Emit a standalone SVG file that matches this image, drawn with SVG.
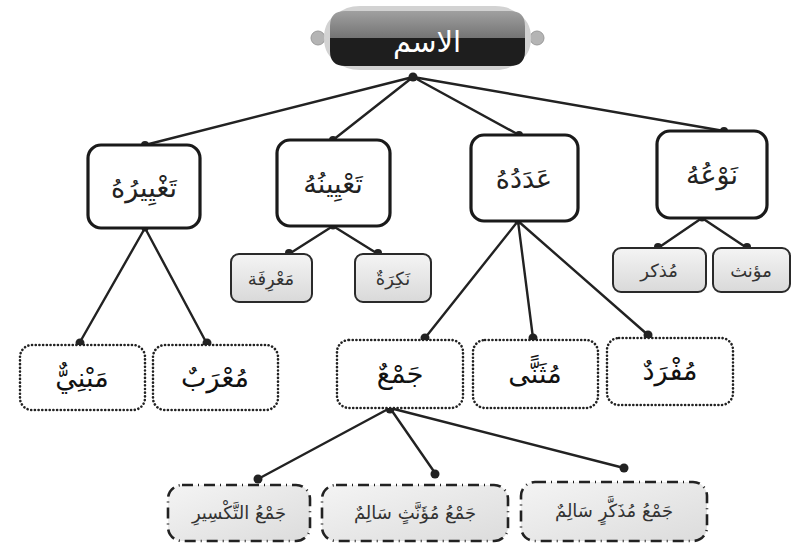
<svg xmlns="http://www.w3.org/2000/svg" width="795" height="547" viewBox="0 0 795 547">
<defs>
<linearGradient id="gTop" x1="0" y1="0" x2="0" y2="1">
<stop offset="0" stop-color="#a0a0a0"/><stop offset="1" stop-color="#747474"/>
</linearGradient>
<linearGradient id="gGrey" x1="0" y1="0" x2="0" y2="1">
<stop offset="0" stop-color="#f4f4f4"/><stop offset="1" stop-color="#d9d9d9"/>
</linearGradient>
<linearGradient id="gBot" x1="0" y1="0" x2="1" y2="1">
<stop offset="0" stop-color="#f4f4f4"/><stop offset="1" stop-color="#dcdcdc"/>
</linearGradient>
</defs>
<style>
.l1{fill:#fff;stroke:#1a1a1a;stroke-width:3.2}
.l2{fill:url(#gGrey);stroke:#2a2a2a;stroke-width:2}
.l3{fill:#fff;stroke:#222;stroke-width:2.6;stroke-dasharray:0.1 3.6;stroke-linecap:round}
.l4{fill:url(#gBot);stroke:#222;stroke-width:2.6;stroke-dasharray:11 5 1 5}
.t{font-family:"DejaVu Sans",sans-serif;fill:#222;text-anchor:middle}
.t1{font-size:27px}
.t2{font-size:18px;fill:#333}
.t3{font-size:27px;fill:#111}
.t4{font-size:18px;fill:#333}
.c{fill:none;stroke:#222;stroke-width:2.4;stroke-linecap:round}
.d{fill:#222}
</style>
<rect width="795" height="547" fill="#fff"/>

<g id="connectors">
<path class="c" d="M413 77 L145 145 M413 77 L333 140 M413 77 L519 135 M413 77 L724 131"/>
<path class="c" d="M333 226 L289 254 M333 226 L378 254"/>
<path class="c" d="M702 218 L658 248 M702 218 L747 248"/>
<path class="c" d="M145 228 L80 342 M145 228 L206 342"/>
<path class="c" d="M518 221 L425 338 M518 221 L533 338 M518 221 L648 335"/>
<path class="c" d="M390 408 L258 479 M390 408 L435 473 M390 408 L624 468"/>
<circle class="d" cx="413" cy="77" r="4.5"/>
<circle class="d" cx="145" cy="145" r="4"/>
<circle class="d" cx="333" cy="140" r="4"/>
<circle class="d" cx="519" cy="135" r="4"/>
<circle class="d" cx="724" cy="131" r="4"/>
<circle class="d" cx="333" cy="226" r="3.5"/>
<circle class="d" cx="289" cy="253" r="4"/>
<circle class="d" cx="378" cy="253" r="4"/>
<circle class="d" cx="702" cy="218" r="3.5"/>
<circle class="d" cx="658" cy="247" r="4"/>
<circle class="d" cx="747" cy="247" r="4"/>
<circle class="d" cx="145" cy="228" r="3.5"/>
<circle class="d" cx="80" cy="343" r="4.5"/>
<circle class="d" cx="207" cy="343" r="4.5"/>
<circle class="d" cx="518" cy="221" r="3.5"/>
<circle class="d" cx="425" cy="338" r="4.5"/>
<circle class="d" cx="533" cy="338" r="4.5"/>
<circle class="d" cx="648" cy="335" r="4.5"/>
<circle class="d" cx="390" cy="409" r="4.5"/>
<circle class="d" cx="258" cy="479" r="4.5"/>
<circle class="d" cx="435" cy="474" r="4.5"/>
<circle class="d" cx="624" cy="468" r="4.5"/>
</g>

<g id="root">
<circle cx="318" cy="38" r="7" fill="#b4b4b4" stroke="#9a9a9a" stroke-width="1"/>
<circle cx="537" cy="38" r="7" fill="#b4b4b4" stroke="#9a9a9a" stroke-width="1"/>
<path d="M324 38 Q324 20 338 14 Q345 6 360 6 L495 6 Q510 6 517 14 Q531 20 531 38 Q531 56 517 62 Q510 70 495 70 L360 70 Q345 70 338 62 Q324 56 324 38 Z" fill="#d2d2d2"/>
<path d="M330 38 L330 26 Q330 11 345 11 L510 11 Q525 11 525 26 L525 38 Z" fill="url(#gTop)"/>
<path d="M330 38 L525 38 L525 51 Q525 66 510 66 L345 66 Q330 66 330 51 Z" fill="#1e1e1e"/>
<text x="427" y="52" font-family="DejaVu Sans, sans-serif" font-size="29" fill="#fff" text-anchor="middle">الاسم</text>
</g>

<g id="n_taghyir">
<rect class="l1" x="88" y="145" width="112" height="83" rx="13"/>
<text class="t t1" x="144" y="197">تَغْيِيرُهُ</text>
</g>
<g id="n_tayin">
<rect class="l1" x="277" y="140" width="113" height="86" rx="13"/>
<text class="t t1" x="333" y="193">تَعْيِينُهُ</text>
</g>
<g id="n_adad">
<rect class="l1" x="471" y="135" width="107" height="86" rx="13"/>
<text class="t t1" x="524" y="188">عَدَدُهُ</text>
</g>
<g id="n_naw">
<rect class="l1" x="657" y="131" width="110" height="87" rx="13"/>
<text class="t t1" x="712" y="184">نَوْعُهُ</text>
</g>

<g id="n_marifa">
<rect class="l2" x="231" y="254" width="81" height="48" rx="8"/>
<text class="t t2" x="271" y="285">مَعْرِفَة</text>
</g>
<g id="n_nakira">
<rect class="l2" x="355" y="254" width="76" height="48" rx="8"/>
<text class="t t2" x="393" y="285">نَكِرَةٌ</text>
</g>
<g id="n_mudhakkar">
<rect class="l2" x="613" y="248" width="93" height="44" rx="8"/>
<text class="t t2" x="659" y="277">مُذكر</text>
</g>
<g id="n_muannath">
<rect class="l2" x="713" y="248" width="77" height="44" rx="8"/>
<text class="t t2" x="751" y="277">مؤنث</text>
</g>

<g id="n_mabni">
<rect class="l3" x="20" y="345" width="125" height="65" rx="12"/>
<text class="t t3" x="82" y="387">مَبْنِيٌّ</text>
</g>
<g id="n_murab">
<rect class="l3" x="153" y="345" width="125" height="65" rx="12"/>
<text class="t t3" x="215" y="387">مُعْرَبٌ</text>
</g>
<g id="n_jam">
<rect class="l3" x="337" y="340" width="126" height="68" rx="12"/>
<text class="t t3" x="400" y="383">جَمْعٌ</text>
</g>
<g id="n_muthanna">
<rect class="l3" x="473" y="340" width="125" height="68" rx="12"/>
<text class="t t3" x="535" y="383">مُثَنًّى</text>
</g>
<g id="n_mufrad">
<rect class="l3" x="607" y="338" width="126" height="67" rx="12"/>
<text class="t t3" x="670" y="380">مُفْرَدٌ</text>
</g>

<g id="n_taksir">
<rect class="l4" x="168" y="485" width="142" height="56" rx="14"/>
<text class="t t4" x="239" y="519">جَمْعُ التَّكْسِيرِ</text>
</g>
<g id="n_muannath_salim">
<rect class="l4" x="322" y="485" width="186" height="56" rx="14"/>
<text class="t t4" x="415" y="519">جَمْعُ مُؤَنَّثٍ سَالِمٌ</text>
</g>
<g id="n_mudhakkar_salim">
<rect class="l4" x="521" y="482" width="186" height="59" rx="14"/>
<text class="t t4" x="614" y="517">جَمْعُ مُذَكَّرٍ سَالِمٌ</text>
</g>
</svg>
